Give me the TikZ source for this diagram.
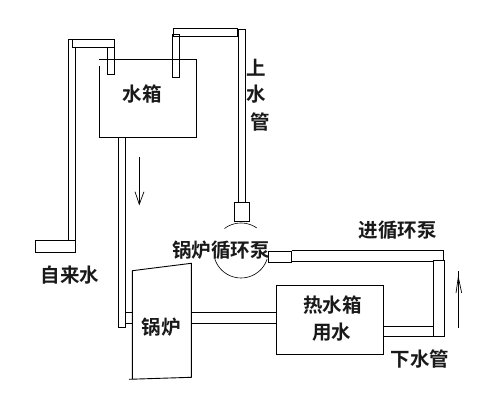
\documentclass[tikz,border=0pt]{standalone}
\usepackage{fontspec}
\setmainfont{Noto Sans CJK SC}[BoldFont={Noto Sans CJK SC Bold}]
\tikzset{
  pipe/.style={draw=black,line width=0.9pt,fill=white},
  body/.style={draw=black,line width=0.9pt},
  flow/.style={draw=black,line width=0.7pt},
  lbl/.style={font=\fontsize{19.5}{20}\selectfont\bfseries,inner sep=0pt,text=black!90}
}
\begin{document}
\begin{tikzpicture}[x=1pt,y=-1pt]
\useasboundingbox[fill=white] (0,0) rectangle (504,409);
% water tank
\draw[body] (99.3,59.3) -- (196.3,59.3) -- (196.3,137.3) -- (99.3,137.3) -- (99.3,66);
% left feed pipe
\draw[pipe] (68.3,240) -- (68.3,39.3) -- (75.3,39.3) -- (75.3,240);
\draw[pipe] (35.3,240) rectangle (75.3,252.3);
\draw[body] (107.3,47.3) rectangle (114.3,74.3);
\draw[pipe] (72,39.3) rectangle (114.3,47.3);
% upper water pipe
\draw[body] (172.3,34.3) rectangle (179.7,77.3);
\draw[body] (173.3,28.3) rectangle (237.7,36.3);
\draw[pipe] (238.3,29.3) rectangle (245.5,202);
\draw[pipe] (234.3,202) rectangle (249.7,221);
% pump circle
\draw[line width=0.6pt] plot[smooth,domain=233:305,samples=15] ({241+27.5*cos(\x)},{250.5+27.5*sin(\x)});
\draw[line width=0.6pt] plot[smooth,domain=18:162,samples=25] ({241+27.5*cos(\x)},{250.5+27.5*sin(\x)});
% tank to boiler
\draw[pipe] (118.3,137.3) rectangle (125,327.3);
\draw[body] (125,312.3) rectangle (132.3,323.3);
% boiler
\draw[pipe] (129,379.3) -- (191.3,377.3) -- (191.3,263.3) -- (132.3,270.7) -- (132.3,379.3);
% boiler to hot tank
\draw[body] (191.3,312.3) rectangle (276,323.3);
% hot tank
\draw[pipe] (276,285.3) rectangle (383.7,354.3);
% return pipes
\draw[body] (383.7,326.3) rectangle (433.3,336.3);
\draw[body] (291.7,250.7) -- (443.3,250.7) -- (443.3,261);
\draw[body] (291.7,261) -- (433.3,261);
\draw[pipe] (268.3,251) rectangle (291.7,262);
\draw[pipe] (433.3,260.7) rectangle (444.3,336.3);
% flow arrows
\draw[flow] (139.3,156.7) -- (139.3,204.3);
\draw[flow] (135,191.7) -- (139.3,204.3) -- (144,191.7);
\draw[flow] (458.3,271) -- (458.3,327.7);
\draw[flow] (456,293) -- (458.3,277) -- (461.7,293);
% labels
\node[lbl] (tank) at (142,94) {水箱};
\node[lbl] (s1) at (256,68) {上};
\node[lbl] (s2) at (256,94) {水};
\node[lbl] (s3) at (260,122) {管};
\node[lbl] (pump) at (221,250) {锅炉循环泵};
\node[lbl] (city) at (70,275) {自来水};
\node[lbl] (inp) at (397.5,230) {进循环泵};
\node[lbl] (boiler) at (161,327) {锅炉};
\node[lbl] (hot) at (332.5,305) {热水箱};
\node[lbl] (use) at (331.5,332) {用水};
\node[lbl] (drain) at (420,359) {下水管};
\end{tikzpicture}
\end{document}
